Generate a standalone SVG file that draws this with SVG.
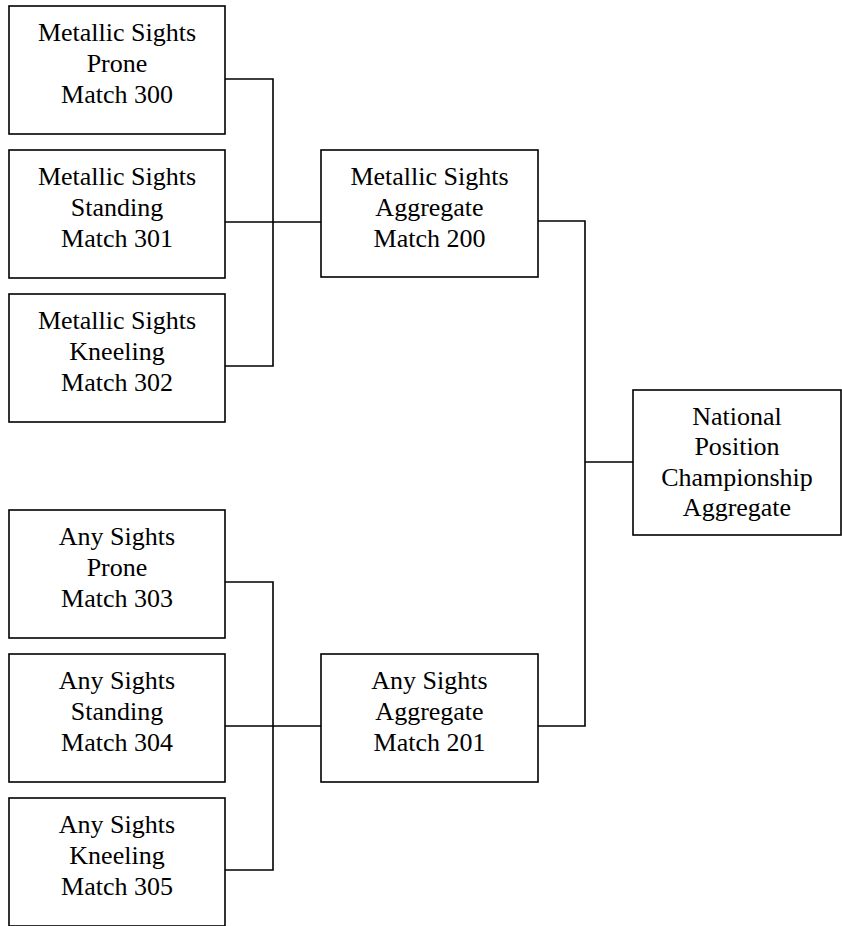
<svg xmlns="http://www.w3.org/2000/svg" width="842" height="926" viewBox="0 0 842 926">
<style>
rect{fill:#fff;stroke:#000;stroke-width:1.6}
text{font-size:26px;fill:#000;text-anchor:middle}
.c{fill:none;stroke:#000;stroke-width:1.6}
</style>
<rect x="0" y="0" width="842" height="926" style="stroke:none"/>
<g id="connectors">
<path class="c" d="M225,79H273V366H225M225,222H321"/>
<path class="c" d="M225,582H273V870H225M225,726H321"/>
<path class="c" d="M538,221H585V726H538M585,462H633"/>
</g>
<g font-family="Liberation Serif, DejaVu Serif, serif">
<g id="m300"><rect x="9" y="6" width="216" height="128"/><text x="117" y="41">Metallic Sights</text><text x="117" y="72">Prone</text><text x="117" y="103">Match 300</text></g>
<g id="m301"><rect x="9" y="150" width="216" height="128"/><text x="117" y="185">Metallic Sights</text><text x="117" y="216">Standing</text><text x="117" y="247">Match 301</text></g>
<g id="m302"><rect x="9" y="294" width="216" height="128"/><text x="117" y="329">Metallic Sights</text><text x="117" y="360">Kneeling</text><text x="117" y="391">Match 302</text></g>
<g id="m303"><rect x="9" y="510" width="216" height="128"/><text x="117" y="545">Any Sights</text><text x="117" y="576">Prone</text><text x="117" y="607">Match 303</text></g>
<g id="m304"><rect x="9" y="654" width="216" height="128"/><text x="117" y="689">Any Sights</text><text x="117" y="720">Standing</text><text x="117" y="751">Match 304</text></g>
<g id="m305"><rect x="9" y="798" width="216" height="128"/><text x="117" y="833">Any Sights</text><text x="117" y="864">Kneeling</text><text x="117" y="895">Match 305</text></g>
<g id="m200"><rect x="321" y="150" width="217" height="127"/><text x="429.5" y="185">Metallic Sights</text><text x="429.5" y="216">Aggregate</text><text x="429.5" y="247">Match 200</text></g>
<g id="m201"><rect x="321" y="654" width="217" height="128"/><text x="429.5" y="689">Any Sights</text><text x="429.5" y="720">Aggregate</text><text x="429.5" y="751">Match 201</text></g>
<g id="national"><rect x="633" y="390" width="208" height="145"/><text x="737" y="425">National</text><text x="737" y="455">Position</text><text x="737" y="486">Championship</text><text x="737" y="516">Aggregate</text></g>
</g>
</svg>
